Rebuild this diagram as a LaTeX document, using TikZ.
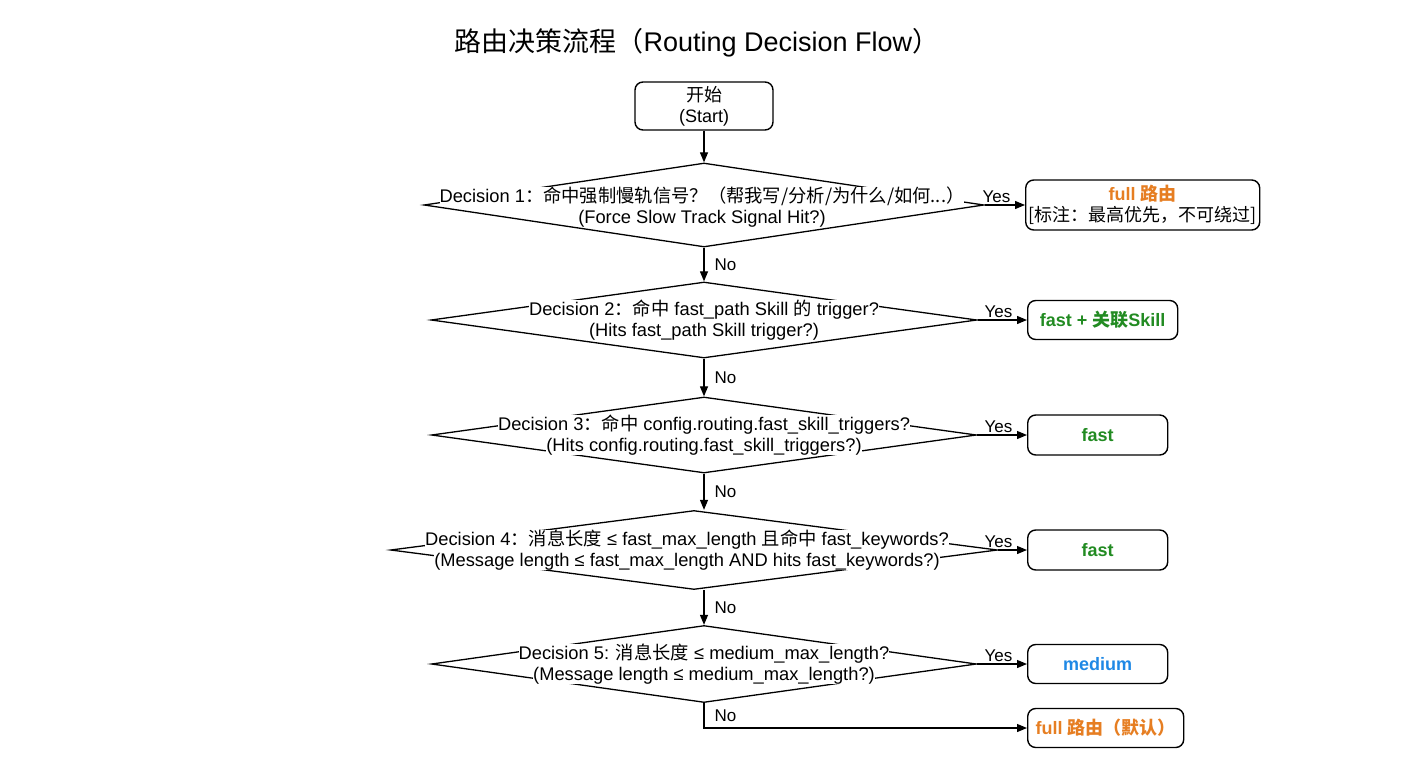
\documentclass[tikz,border=0pt]{standalone}
\usepackage{fontspec}
\setmainfont{Liberation Sans}
\newfontfamily\cjk{Noto Sans CJK SC}
\usetikzlibrary{shapes.geometric,arrows.meta}

\definecolor{fullor}{RGB}{230,126,34}
\definecolor{fastgr}{RGB}{34,139,34}
\definecolor{medbl}{RGB}{30,136,229}

\newcommand{\zh}[1]{{\cjk #1}}
\newcommand{\wl}[1]{{\setlength{\fboxsep}{0pt}\colorbox{white}{#1}}}

\tikzset{
  dec/.style={diamond, draw, line width=1.3pt, inner sep=0pt},
  dectext/.style={align=center, inner sep=0pt, font=\fontsize{18.3}{21.5}\selectfont},
  caixa/.style={rectangle, rounded corners=8pt, draw, line width=1.4pt, align=center, inner sep=2pt},
  res/.style={caixa, anchor=west, font=\fontsize{18}{21.5}\selectfont\bfseries},
  arr/.style={-{Triangle[length=10pt,width=8pt]}, line width=1.2pt},
  lbl/.style={font=\fontsize{17}{19}\selectfont, inner sep=2pt}
}

\begin{document}
\begin{tikzpicture}[x=1pt,y=-1pt]
\useasboundingbox (0,0) rectangle (1408,768);

\node[font=\fontsize{27}{30}\selectfont] (titulo) at (697,43) {\zh{路由决策流程（}Routing Decision Flow\zh{）}};

\node[caixa, minimum width=138pt, minimum height=48pt, font=\fontsize{18}{21}\selectfont] (ini) at (704,106) {\zh{开始}\\(Start)};

% Decisoes
\node[dec, minimum width=560pt, minimum height=84pt] (d1) at (704,205) {};
\node[dectext] (t1) at (702,207) {\wl{Decision 1\zh{：命中强制慢轨信号？（帮我写/分析/为什么/如何...）}}\\\wl{(Force Slow Track Signal Hit?)}};

\node[dec, minimum width=546pt, minimum height=76pt] (d2) at (704,320) {};
\node[dectext] (t2) at (d2) {\wl{Decision 2\zh{：命中} fast\_path Skill \zh{的} trigger?}\\\wl{(Hits fast\_path Skill trigger?)}};

\node[dec, minimum width=545pt, minimum height=76pt] (d3) at (704,435) {};
\node[dectext] (t3) at (d3) {\wl{Decision 3\zh{：命中} config.routing.fast\_skill\_triggers?}\\\wl{(Hits config.routing.fast\_skill\_triggers?)}};

\node[dec, minimum width=607pt, minimum height=79pt] (d4) at (694,550) {};
\node[dectext] (t4) at (687,550) {\wl{Decision 4\zh{：消息长度} ≤ fast\_max\_length \zh{且命中} fast\_keywords?}\\\wl{(Message length ≤ fast\_max\_length AND hits fast\_keywords?)}};

\node[dec, minimum width=545pt, minimum height=77pt] (d5) at (704,664) {};
\node[dectext] (t5) at (d5) {\wl{Decision 5: \zh{消息长度} ≤ medium\_max\_length?}\\\wl{(Message length ≤ medium\_max\_length?)}};

% Resultados
\node[res, minimum width=234pt, minimum height=50pt] (r1) at (1025,205) {\textcolor{fullor}{full \zh{路由}}\\{\mdseries\zh{[标注：最高优先，不可绕过]}}};
\node[res, minimum width=150pt, minimum height=39pt, text=fastgr] (r2) at (1027,320) {fast + \zh{关联}Skill};
\node[res, minimum width=140pt, minimum height=40pt, text=fastgr] (r3) at (1027,435) {fast};
\node[res, minimum width=140pt, minimum height=40pt, text=fastgr] (r4) at (1027,550) {fast};
\node[res, minimum width=140pt, minimum height=39pt, text=medbl] (r5) at (1027,664) {medium};
\node[res, minimum width=156pt, minimum height=39pt, text=fullor] (r6) at (1027,728) {full \zh{路由（默认）}};

% Ligacoes
\draw[arr] (ini.south) -- (d1.north);
\foreach \a/\b in {d1/d2, d2/d3, d3/d4, d4/d5}
  \draw[arr] (\a.south -| ini) -- node[lbl, right=8pt] {No} (\b.north -| ini);
\foreach \d/\r in {d1/r1, d2/r2, d3/r3, d4/r4, d5/r5}
  \draw[arr] (\d.east) -- (\r.west) node[lbl, above left, pos=1, xshift=-12pt] {Yes};

\coordinate (canto) at (d5.south |- r6.west);
\draw[arr] (d5.south) -- node[lbl, right=8pt] {No} (canto) -- (r6.west);
\end{tikzpicture}
\end{document}
